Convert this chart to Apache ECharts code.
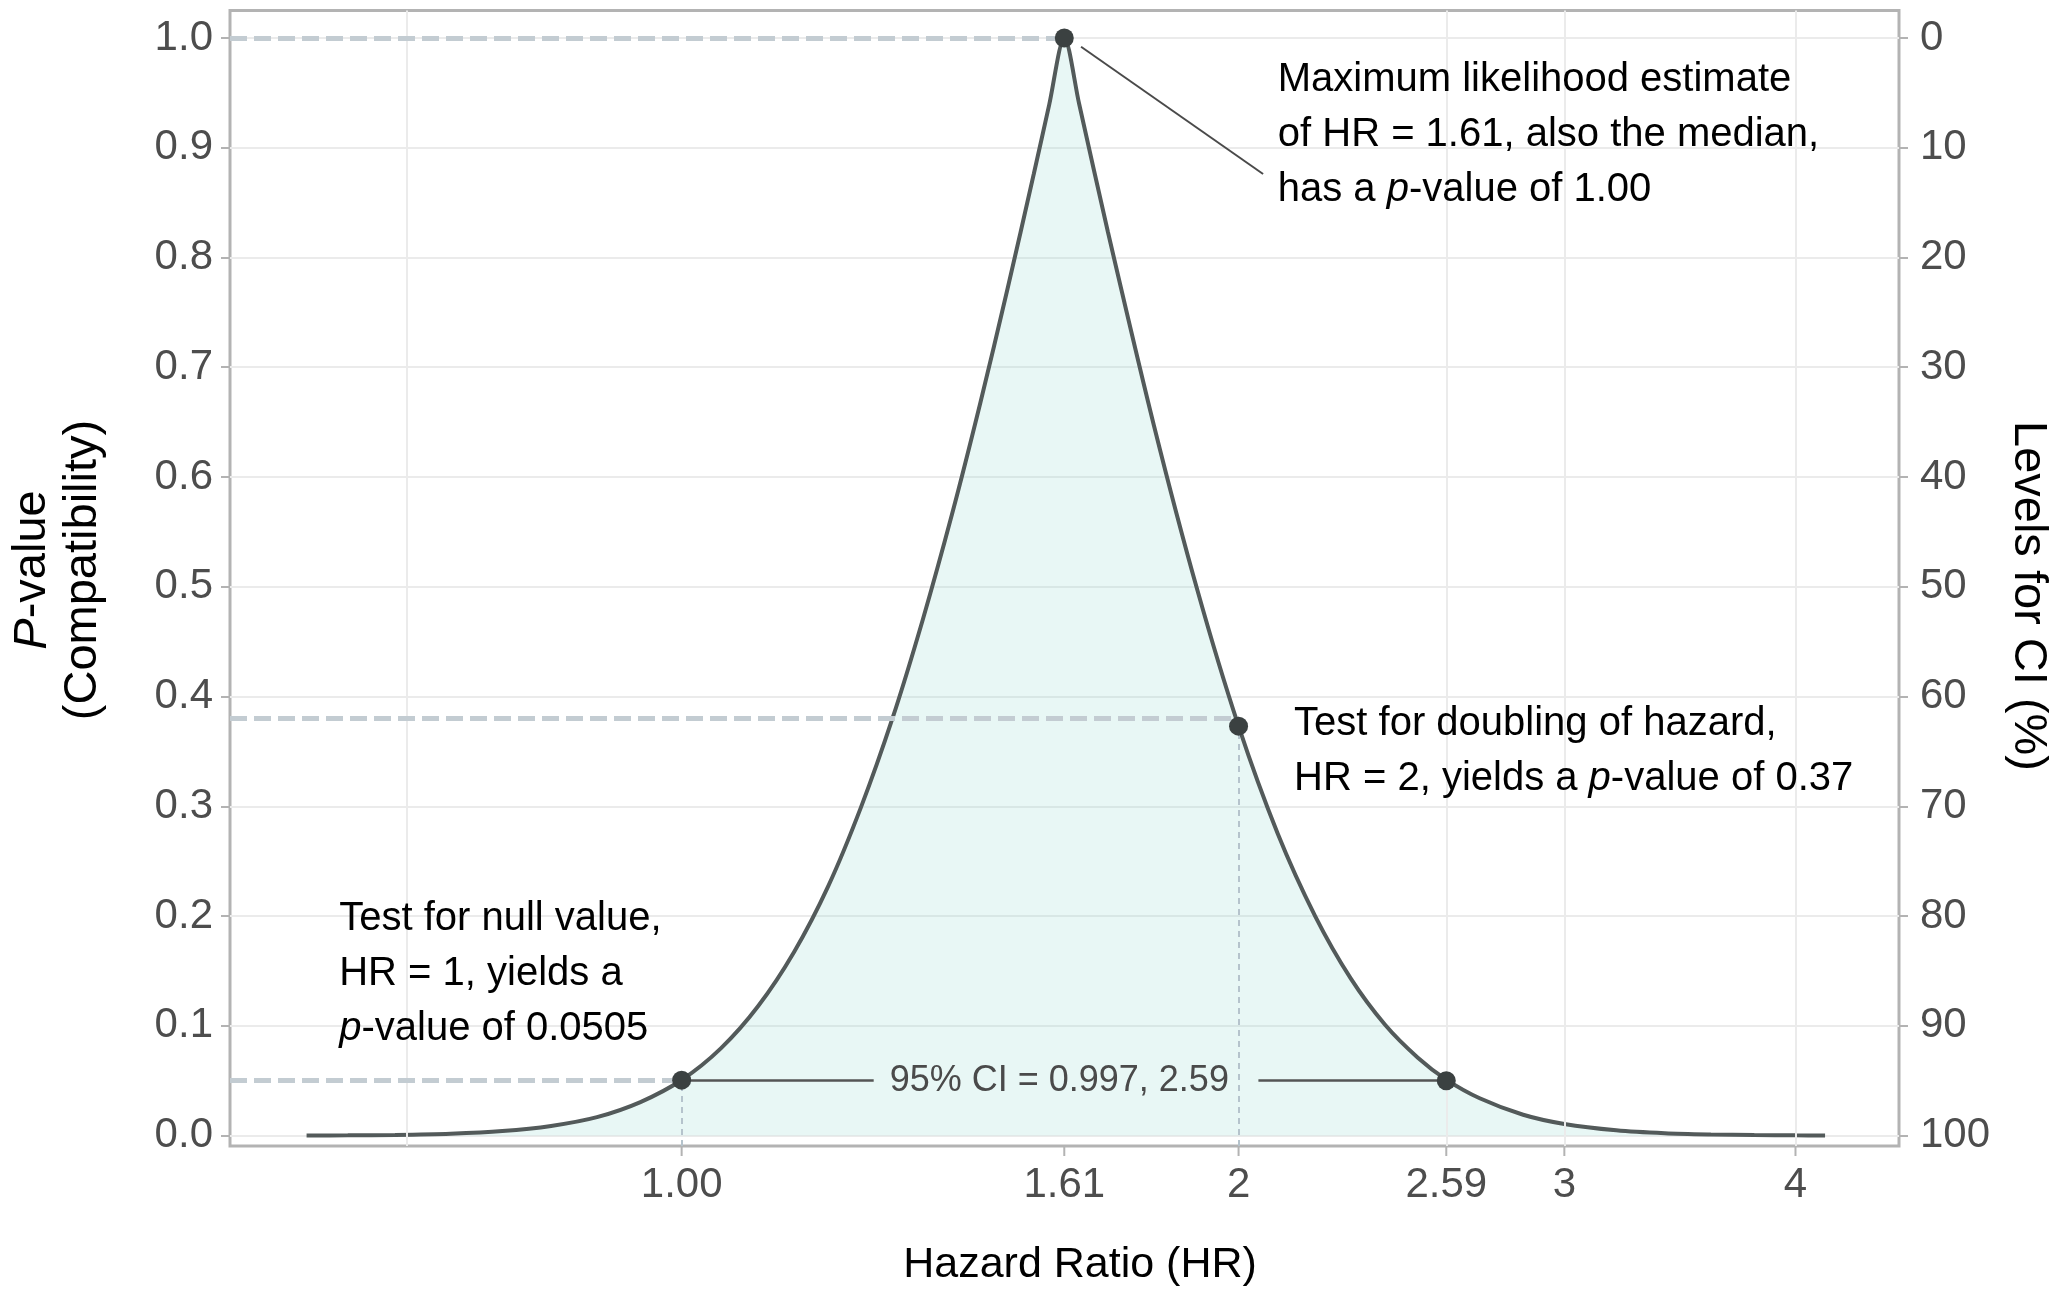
<!DOCTYPE html>
<html>
<head>
<meta charset="utf-8">
<title>P-value function</title>
<script src="https://cdn.jsdelivr.net/npm/echarts@6.0.0/dist/echarts.min.js"></script>
<style>
  html, body { margin: 0; padding: 0; background: #fff; }
  #chart { width: 2058px; height: 1289px; }
</style>
</head>
<body>
<div id="chart"></div>
<script>
// p-value curve (HR on a log axis)
const hrValues = [0.627, 0.66, 0.7, 0.75, 0.8, 0.85, 0.9, 0.95, 1.0, 1.05, 1.1, 1.15, 1.2, 1.25, 1.3, 1.35, 1.4, 1.45, 1.5, 1.55, 1.58, 1.61,
  1.64, 1.7, 1.8, 1.9, 2.0, 2.1, 2.2, 2.3, 2.4, 2.5, 2.59, 2.7, 2.85, 3.0, 3.2, 3.4, 3.6, 3.8, 4.0, 4.15];
const pValues = [0.0001, 0.00025, 0.0006, 0.0017, 0.0041, 0.0088, 0.0168, 0.0305, 0.0506, 0.0794, 0.118, 0.167, 0.227, 0.299, 0.38, 0.47, 0.566, 0.667, 0.771, 0.876, 0.939, 1.0,
  0.94, 0.823, 0.647, 0.497, 0.373, 0.275, 0.2, 0.143, 0.101, 0.071, 0.051, 0.034, 0.019, 0.0106, 0.0048, 0.0021, 0.00096, 0.00042, 0.00019, 0.0001];

// highlighted points: MLE, doubling test, null test, upper CI limit
const keyPoints = [[1.61, 1.0], [2, 0.373], [1.0, 0.0505], [2.59, 0.05]];

const xTickValues = [1, 1.61, 2, 2.59, 3, 4];
const xTickLabels = ["1.00", "1.61", "2", "2.59", "3", "4"];
const xGridValues = [0.71, 2.59, 3, 4];
const pTicks = [0, 0.1, 0.2, 0.3, 0.4, 0.5, 0.6, 0.7, 0.8, 0.9, 1.0];
const ciTicks = [0, 10, 20, 30, 40, 50, 60, 70, 80, 90, 100];

// dashed guides [HR where it stops, p]
const hGuides = [[1.61, 1.0], [2, 0.38], [1.0, 0.05]];
const vGuides = [[1.0, 0.05], [2, 0.373]];
const ciLevel = 0.05;
const ciSegments = [[1.0, 1.27], [2.05, 2.59]];
const leader = [[1.644, 0.992], [2.062, 0.876]];

const xMin = 0.57, xMax = 4.55;
const yMin = -0.0095, yMax = 1.025;

const FONT = '"Liberation Sans", Arial, Helvetica, sans-serif';
const GRID_C = "#ebebeb";

const chart = echarts.init(document.getElementById("chart"));

function segLines(pairs) {
  return pairs.map((p) => [{ coord: p[0] }, { coord: p[1] }]);
}

chart.setOption({
  animation: false,
  grid: {
    left: 230, right: 159, top: 10.5, bottom: 143,
    show: true, borderColor: "#b3b3b3", borderWidth: 3, backgroundColor: "transparent",
  },
  xAxis: {
    type: "log", logBase: 10, min: xMin, max: xMax,
    axisLine: { show: false }, axisTick: { show: false },
    axisLabel: { show: false }, splitLine: { show: false },
  },
  yAxis: [
    {
      type: "value", min: yMin, max: yMax,
      axisLine: { show: false },
      axisTick: { show: true, length: 9, customValues: pTicks, lineStyle: { color: "#b3b3b3", width: 2 } },
      axisLabel: {
        customValues: pTicks, margin: 17, fontSize: 42, fontFamily: FONT, color: "#4d4d4d",
        formatter: (v) => v.toFixed(1),
      },
      splitLine: { show: true, lineStyle: { color: GRID_C, width: 2 } },
    },
    {
      type: "value", position: "right", inverse: true,
      min: 100 * (1 - yMax), max: 100 * (1 - yMin),
      axisLine: { show: false },
      axisTick: { show: true, length: 9, customValues: ciTicks, lineStyle: { color: "#b3b3b3", width: 2 } },
      axisLabel: { customValues: ciTicks, margin: 21, fontSize: 42, fontFamily: FONT, color: "#4d4d4d" },
      splitLine: { show: false },
    },
  ],
  series: [
    {
      type: "line", data: [], z: 1, clip: false,
      markLine: {
        silent: true, symbol: ["none", "none"], label: { show: false },
        lineStyle: { color: GRID_C, width: 2, type: "solid" },
        data: xGridValues.map((v) => ({ xAxis: v })),
      },
    },
    {
      type: "line",
      data: hrValues.map((h, i) => [h, pValues[i]]),
      showSymbol: false, z: 3, smooth: 0.3,
      lineStyle: { color: "#535a5a", width: 4 },
      areaStyle: { color: "rgba(140, 215, 205, 0.28)" },
    },
    {
      type: "line", data: [], z: 2, clip: false,
      markLine: {
        silent: true, symbol: ["none", "none"], label: { show: false },
        lineStyle: { color: "#c3ccd2", width: 5, type: [17, 7] },
        data: segLines(hGuides.map((g) => [[xMin, g[1]], [g[0], g[1]]])),
      },
    },
    {
      type: "line", data: [], z: 2, clip: false,
      markLine: {
        silent: true, symbol: ["none", "none"], label: { show: false },
        lineStyle: { color: "#b5c3cc", width: 2, type: [6, 5] },
        data: segLines(vGuides.map((g) => [[g[0], yMin], [g[0], g[1]]])),
      },
    },
    {
      type: "line", data: [], z: 4, clip: false,
      markLine: {
        silent: true, symbol: ["none", "none"], label: { show: false },
        lineStyle: { color: "#555", width: 2.5, type: "solid" },
        data: segLines(ciSegments.map((s) => [[s[0], ciLevel], [s[1], ciLevel]])),
      },
    },
    {
      type: "line", data: [], z: 4, clip: false,
      markLine: {
        silent: true, symbol: ["none", "none"], label: { show: false },
        lineStyle: { color: "#4a4a4a", width: 2, type: "solid" },
        data: segLines([leader]),
      },
    },
    {
      type: "scatter", data: keyPoints, z: 5,
      symbolSize: 19, itemStyle: { color: "#3b4141", opacity: 1 },
    },
  ],
});

// text and x ticks placed through the chart's own scales
const px = (x, y) => chart.convertToPixel({ gridIndex: 0 }, [x, y]);
const bottom = px(xMin, yMin)[1];
const els = [];

function addText(x, y, text, opts) {
  const size = opts.size;
  els.push({
    type: "text", x: x, y: y, rotation: opts.rotation || 0, z: 100, silent: true,
    style: {
      text: text, fill: opts.color || "#000", fontSize: size, fontFamily: FONT,
      lineHeight: opts.lh || size * 1.2,
      align: opts.align || "left", textAlign: opts.align || "left",
      verticalAlign: opts.valign || "top", textVerticalAlign: opts.valign || "top",
      rich: {
        i: { fontStyle: "italic", fontSize: size, fontFamily: FONT, fill: opts.color || "#000", lineHeight: opts.lh || size * 1.2 },
      },
    },
  });
}

xTickValues.forEach((v, i) => {
  const x = px(v, 0)[0];
  els.push({
    type: "line", z: 100, silent: true,
    shape: { x1: x, y1: bottom, x2: x, y2: bottom + 10 },
    style: { stroke: "#b3b3b3", lineWidth: 2 },
  });
  addText(x, bottom + 39, xTickLabels[i], { size: 42, color: "#4d4d4d", align: "center", valign: "middle" });
});

addText(1080, 1265, "Hazard Ratio (HR)", { size: 43, align: "center", valign: "middle" });
addText(58, 570, "{i|P}-value\n(Compatibility)", { size: 47, lh: 51, align: "center", valign: "middle", rotation: Math.PI / 2 });
addText(2028, 596, "Levels for CI (%)", { size: 47, align: "center", valign: "middle", rotation: -Math.PI / 2 });

let a = px(2.10, 0.987);
addText(a[0], a[1], "Maximum likelihood estimate\nof HR = 1.61, also the median,\nhas a {i|p}-value of 1.00", { size: 40, lh: 55 });
a = px(2.143, 0.40);
addText(a[0], a[1], "Test for doubling of hazard,\nHR = 2, yields a {i|p}-value of 0.37", { size: 40, lh: 55 });
a = px(0.653, 0.2226);
addText(a[0], a[1], "Test for null value,\nHR = 1, yields a\n{i|p}-value of 0.0505", { size: 40, lh: 55 });
a = px(1.6, ciLevel);
addText(a[0], a[1], "95% CI = 0.997, 2.59", { size: 36, color: "#4a4a4a", align: "center", valign: "middle" });

chart.setOption({ graphic: { elements: els } });
</script>
</body>
</html>
